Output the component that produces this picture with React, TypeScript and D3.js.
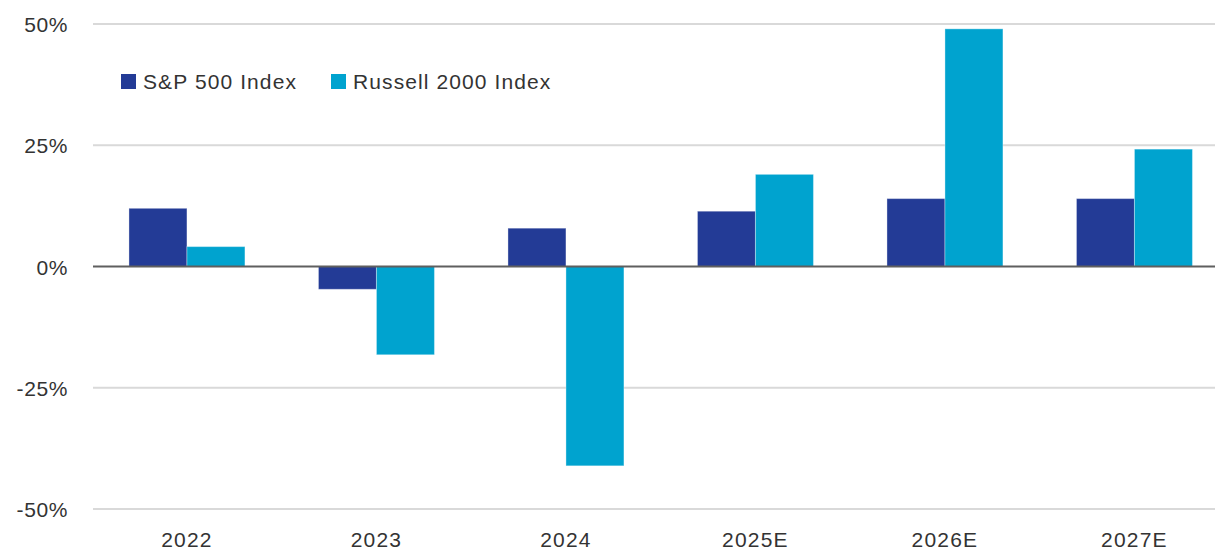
import React, { useRef, useEffect } from 'react';
import * as d3 from 'd3';

const categories = ['2022', '2023', '2024', '2025E', '2026E', '2027E'];
const seriesNames = ['S&P 500 Index', 'Russell 2000 Index'];
const spValues = [12.0, -4.7, 7.9, 11.4, 14.0, 14.0];
const russellValues = [4.1, -18.2, -41.1, 19.0, 49.0, 24.2];
const yTicks = [50, 25, 0, -25, -50];
const colors = ['#233b96', '#00a3cf'];

const App = () => {
  const svgRef = useRef<SVGSVGElement>(null);

  useEffect(() => {
    const width = 1215;
    const plotLeft = 93;
    const svg = d3.select(svgRef.current);
    svg.selectAll('*').remove();

    const font = '"Liberation Sans", Arial, sans-serif';

    const x = d3
      .scaleBand()
      .domain(categories)
      .range([92.2, 92.2 + 189.5 * 6])
      .paddingInner(0.388)
      .paddingOuter(0.194);

    const xSub = d3
      .scaleBand()
      .domain(seriesNames)
      .range([0, x.bandwidth()]);

    const y = d3.scaleLinear().domain([-50, 50]).range([509, 24]);

    // gridlines
    svg
      .append('g')
      .selectAll('line')
      .data(yTicks.filter((t) => t !== 0))
      .join('line')
      .attr('x1', plotLeft)
      .attr('x2', width)
      .attr('y1', (d) => y(d))
      .attr('y2', (d) => y(d))
      .attr('stroke', '#d9d9d9')
      .attr('stroke-width', 2);

    // y labels
    svg
      .append('g')
      .selectAll('text')
      .data(yTicks)
      .join('text')
      .attr('x', 68)
      .attr('y', (d) => y(d) + 8)
      .attr('text-anchor', 'end')
      .attr('font-family', font)
      .attr('font-size', 21)
      .attr('letter-spacing', 0.6)
      .attr('fill', '#333')
      .text((d) => `${d}%`);

    // bars
    const rows = categories.map((c, i) => ({
      cat: c,
      vals: [
        { name: seriesNames[0], v: spValues[i], color: colors[0] },
        { name: seriesNames[1], v: russellValues[i], color: colors[1] },
      ],
    }));

    svg
      .append('g')
      .selectAll('g')
      .data(rows)
      .join('g')
      .attr('transform', (d) => `translate(${x(d.cat)},0)`)
      .selectAll('rect')
      .data((d) => d.vals)
      .join('rect')
      .attr('x', (d) => xSub(d.name) as number)
      .attr('width', xSub.bandwidth())
      .attr('y', (d) => y(Math.max(0, d.v)))
      .attr('height', (d) => Math.abs(y(d.v) - y(0)))
      .attr('fill', (d) => d.color)
      .attr('stroke', 'rgba(255,255,255,0.35)')
      .attr('stroke-width', 1);

    // zero line
    svg
      .append('line')
      .attr('x1', plotLeft)
      .attr('x2', width)
      .attr('y1', y(0))
      .attr('y2', y(0))
      .attr('stroke', '#5f5f5f')
      .attr('stroke-width', 2);

    // x labels
    svg
      .append('g')
      .selectAll('text')
      .data(categories)
      .join('text')
      .attr('x', (d) => (x(d) as number) + x.bandwidth() / 2)
      .attr('y', 547)
      .attr('text-anchor', 'middle')
      .attr('font-family', font)
      .attr('font-size', 21)
      .attr('letter-spacing', 1.2)
      .attr('fill', '#333')
      .text((d) => d);

    // legend
    const legendX = [121, 331];
    const legend = svg
      .append('g')
      .selectAll('g')
      .data(seriesNames)
      .join('g')
      .attr('transform', (d, i) => `translate(${legendX[i]},74)`);

    legend
      .append('rect')
      .attr('width', 15)
      .attr('height', 15)
      .attr('fill', (d, i) => colors[i]);

    legend
      .append('text')
      .attr('x', 22)
      .attr('y', 15)
      .attr('font-family', font)
      .attr('font-size', 21)
      .attr('letter-spacing', 1.1)
      .attr('fill', '#333')
      .text((d) => d);
  }, []);

  return (
    <svg
      ref={svgRef}
      width={1215}
      height={552}
      style={{ position: 'absolute', left: 0, top: 0, background: '#fff' }}
    />
  );
};

export default App;
